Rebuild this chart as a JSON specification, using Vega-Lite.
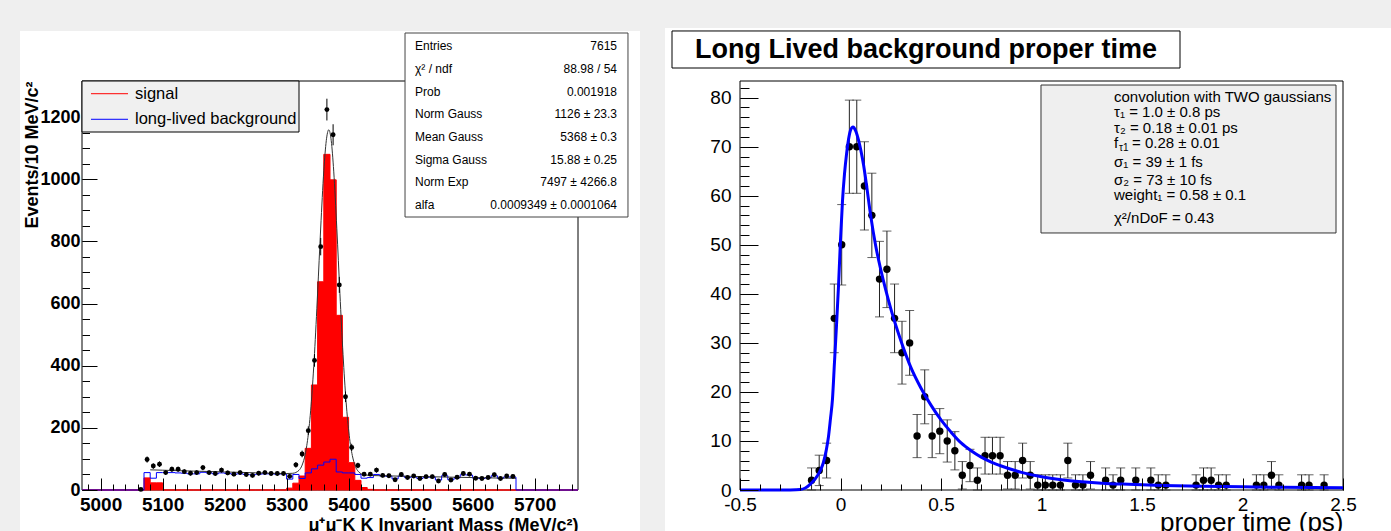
{
  "$schema": "https://vega.github.io/schema/vega-lite/v6.json",
  "background": "#efefef",
  "padding": {"left": 20, "top": 27, "right": 0, "bottom": 0},
  "spacing": 25,
  "config": {
    "font": "Liberation Sans",
    "view": {"stroke": null},
    "axis": {"grid": false, "domain": false, "labelOverlap": false, "labelFlush": false, "tickColor": "#000", "tickWidth": 1, "labelColor": "#000", "titleColor": "#000"}
  },
  "datasets": {
    "hist": [
      {"e": 4970, "sig": 0, "bkg": 0},
      {"e": 5070, "sig": 39, "bkg": 56},
      {"e": 5080, "sig": 23, "bkg": 38},
      {"e": 5090, "sig": 23, "bkg": 56},
      {"e": 5100, "sig": 0, "bkg": 56},
      {"e": 5110, "sig": 0, "bkg": 56},
      {"e": 5120, "sig": 0, "bkg": 55},
      {"e": 5130, "sig": 0, "bkg": 54},
      {"e": 5140, "sig": 0, "bkg": 52},
      {"e": 5150, "sig": 0, "bkg": 52},
      {"e": 5160, "sig": 0, "bkg": 57},
      {"e": 5170, "sig": 0, "bkg": 55},
      {"e": 5180, "sig": 0, "bkg": 52},
      {"e": 5190, "sig": 0, "bkg": 55},
      {"e": 5200, "sig": 0, "bkg": 53},
      {"e": 5210, "sig": 0, "bkg": 51},
      {"e": 5220, "sig": 0, "bkg": 52},
      {"e": 5230, "sig": 0, "bkg": 50},
      {"e": 5240, "sig": 0, "bkg": 49},
      {"e": 5250, "sig": 0, "bkg": 51},
      {"e": 5260, "sig": 0, "bkg": 52},
      {"e": 5270, "sig": 0, "bkg": 52},
      {"e": 5280, "sig": 0, "bkg": 51},
      {"e": 5290, "sig": 0, "bkg": 52},
      {"e": 5300, "sig": 6, "bkg": 35},
      {"e": 5310, "sig": 22, "bkg": 50},
      {"e": 5320, "sig": 45, "bkg": 37},
      {"e": 5330, "sig": 134, "bkg": 55},
      {"e": 5340, "sig": 338, "bkg": 68},
      {"e": 5350, "sig": 670, "bkg": 80},
      {"e": 5360, "sig": 1080, "bkg": 90},
      {"e": 5370, "sig": 998, "bkg": 99},
      {"e": 5380, "sig": 562, "bkg": 58},
      {"e": 5390, "sig": 234, "bkg": 55},
      {"e": 5400, "sig": 88, "bkg": 55},
      {"e": 5410, "sig": 31, "bkg": 50},
      {"e": 5420, "sig": 8, "bkg": 38},
      {"e": 5430, "sig": 2, "bkg": 40},
      {"e": 5440, "sig": 0, "bkg": 50},
      {"e": 5450, "sig": 0, "bkg": 45},
      {"e": 5460, "sig": 0, "bkg": 44},
      {"e": 5470, "sig": 0, "bkg": 36},
      {"e": 5480, "sig": 0, "bkg": 45},
      {"e": 5490, "sig": 0, "bkg": 40},
      {"e": 5500, "sig": 0, "bkg": 42},
      {"e": 5510, "sig": 0, "bkg": 37},
      {"e": 5520, "sig": 0, "bkg": 41},
      {"e": 5530, "sig": 0, "bkg": 41},
      {"e": 5540, "sig": 0, "bkg": 32},
      {"e": 5550, "sig": 0, "bkg": 46},
      {"e": 5560, "sig": 0, "bkg": 33},
      {"e": 5570, "sig": 0, "bkg": 39},
      {"e": 5580, "sig": 0, "bkg": 49},
      {"e": 5590, "sig": 0, "bkg": 48},
      {"e": 5600, "sig": 0, "bkg": 38},
      {"e": 5610, "sig": 0, "bkg": 37},
      {"e": 5620, "sig": 0, "bkg": 39},
      {"e": 5630, "sig": 0, "bkg": 46},
      {"e": 5640, "sig": 0, "bkg": 37},
      {"e": 5650, "sig": 0, "bkg": 42},
      {"e": 5660, "sig": 0, "bkg": 41},
      {"e": 5670, "sig": 0, "bkg": 0},
      {"e": 5770, "sig": 0, "bkg": 0}
    ],
    "mass": [
      {"m": 5065, "n": 2, "lo": 0.6, "hi": 3.4},
      {"m": 5075, "n": 98, "lo": 88.1, "hi": 107.9},
      {"m": 5085, "n": 77, "lo": 68.2, "hi": 85.8},
      {"m": 5095, "n": 83, "lo": 73.9, "hi": 92.1},
      {"m": 5105, "n": 56, "lo": 48.5, "hi": 63.5},
      {"m": 5115, "n": 67, "lo": 58.8, "hi": 75.2},
      {"m": 5125, "n": 67, "lo": 58.8, "hi": 75.2},
      {"m": 5135, "n": 59, "lo": 51.3, "hi": 66.7},
      {"m": 5145, "n": 54, "lo": 46.7, "hi": 61.3},
      {"m": 5155, "n": 56, "lo": 48.5, "hi": 63.5},
      {"m": 5165, "n": 72, "lo": 63.5, "hi": 80.5},
      {"m": 5175, "n": 56, "lo": 48.5, "hi": 63.5},
      {"m": 5185, "n": 53, "lo": 45.7, "hi": 60.3},
      {"m": 5195, "n": 64, "lo": 56, "hi": 72},
      {"m": 5205, "n": 55, "lo": 47.6, "hi": 62.4},
      {"m": 5215, "n": 51, "lo": 43.9, "hi": 58.1},
      {"m": 5225, "n": 56, "lo": 48.5, "hi": 63.5},
      {"m": 5235, "n": 50, "lo": 42.9, "hi": 57.1},
      {"m": 5245, "n": 47, "lo": 40.1, "hi": 53.9},
      {"m": 5255, "n": 54, "lo": 46.7, "hi": 61.3},
      {"m": 5265, "n": 56, "lo": 48.5, "hi": 63.5},
      {"m": 5275, "n": 53, "lo": 45.7, "hi": 60.3},
      {"m": 5285, "n": 53, "lo": 45.7, "hi": 60.3},
      {"m": 5295, "n": 53, "lo": 45.7, "hi": 60.3},
      {"m": 5305, "n": 44, "lo": 37.4, "hi": 50.6},
      {"m": 5315, "n": 81, "lo": 72, "hi": 90},
      {"m": 5325, "n": 116, "lo": 105.2, "hi": 126.8},
      {"m": 5335, "n": 191, "lo": 177.2, "hi": 204.8},
      {"m": 5345, "n": 417, "lo": 396.6, "hi": 437.4},
      {"m": 5355, "n": 783, "lo": 755, "hi": 811},
      {"m": 5365, "n": 1224, "lo": 1189, "hi": 1259},
      {"m": 5375, "n": 1143, "lo": 1109.2, "hi": 1176.8},
      {"m": 5385, "n": 660, "lo": 634.3, "hi": 685.7},
      {"m": 5395, "n": 300, "lo": 282.7, "hi": 317.3},
      {"m": 5405, "n": 137, "lo": 125.3, "hi": 148.7},
      {"m": 5415, "n": 79, "lo": 70.1, "hi": 87.9},
      {"m": 5425, "n": 51, "lo": 43.9, "hi": 58.1},
      {"m": 5435, "n": 51, "lo": 43.9, "hi": 58.1},
      {"m": 5445, "n": 64, "lo": 56, "hi": 72},
      {"m": 5455, "n": 47, "lo": 40.1, "hi": 53.9},
      {"m": 5465, "n": 46, "lo": 39.2, "hi": 52.8},
      {"m": 5475, "n": 33, "lo": 27.3, "hi": 38.7},
      {"m": 5485, "n": 50, "lo": 42.9, "hi": 57.1},
      {"m": 5495, "n": 40, "lo": 33.7, "hi": 46.3},
      {"m": 5505, "n": 45, "lo": 38.3, "hi": 51.7},
      {"m": 5515, "n": 37, "lo": 30.9, "hi": 43.1},
      {"m": 5525, "n": 43, "lo": 36.4, "hi": 49.6},
      {"m": 5535, "n": 43, "lo": 36.4, "hi": 49.6},
      {"m": 5545, "n": 29, "lo": 23.6, "hi": 34.4},
      {"m": 5555, "n": 50, "lo": 42.9, "hi": 57.1},
      {"m": 5565, "n": 32, "lo": 26.3, "hi": 37.7},
      {"m": 5575, "n": 41, "lo": 34.6, "hi": 47.4},
      {"m": 5585, "n": 53, "lo": 45.7, "hi": 60.3},
      {"m": 5595, "n": 51, "lo": 43.9, "hi": 58.1},
      {"m": 5605, "n": 38, "lo": 31.8, "hi": 44.2},
      {"m": 5615, "n": 37, "lo": 30.9, "hi": 43.1},
      {"m": 5625, "n": 40, "lo": 33.7, "hi": 46.3},
      {"m": 5635, "n": 49, "lo": 42, "hi": 56},
      {"m": 5645, "n": 37, "lo": 30.9, "hi": 43.1},
      {"m": 5655, "n": 45, "lo": 38.3, "hi": 51.7},
      {"m": 5665, "n": 44, "lo": 37.4, "hi": 50.6}
    ],
    "massfit": [
      {"m": 5080, "f": 64.9}, {"m": 5100, "f": 63.7}, {"m": 5150, "f": 60.8}, {"m": 5200, "f": 58.1},
      {"m": 5250, "f": 55.4}, {"m": 5300, "f": 53.0}, {"m": 5310, "f": 53.8}, {"m": 5320, "f": 63.4},
      {"m": 5325, "f": 80.0}, {"m": 5330, "f": 114.7}, {"m": 5335, "f": 179.2}, {"m": 5340, "f": 285.5},
      {"m": 5345, "f": 438.8}, {"m": 5350, "f": 633.6}, {"m": 5355, "f": 843}, {"m": 5360, "f": 1027},
      {"m": 5364, "f": 1124}, {"m": 5368, "f": 1159}, {"m": 5372, "f": 1124}, {"m": 5376, "f": 1026},
      {"m": 5381, "f": 842}, {"m": 5386, "f": 632}, {"m": 5391, "f": 436.6}, {"m": 5396, "f": 282.7},
      {"m": 5401, "f": 176.1}, {"m": 5406, "f": 111.1}, {"m": 5411, "f": 76.0}, {"m": 5416, "f": 58.9},
      {"m": 5426, "f": 48.3}, {"m": 5436, "f": 46.6}, {"m": 5450, "f": 46.0}, {"m": 5500, "f": 43.9},
      {"m": 5550, "f": 41.9}, {"m": 5600, "f": 40.0}, {"m": 5650, "f": 38.2}, {"m": 5670, "f": 37.5}
    ],
    "tau": [
      {"t": -0.144, "n": 2, "lo": 0, "hi": 4.5},
      {"t": -0.106, "n": 4, "lo": 0.9, "hi": 7.1},
      {"t": -0.069, "n": 6, "lo": 2.45, "hi": 9.55},
      {"t": -0.031, "n": 35, "lo": 28, "hi": 42},
      {"t": 0.006, "n": 50, "lo": 41.8, "hi": 58.2},
      {"t": 0.044, "n": 70, "lo": 60.5, "hi": 79.5},
      {"t": 0.081, "n": 70, "lo": 60.5, "hi": 79.5},
      {"t": 0.119, "n": 62, "lo": 53, "hi": 71},
      {"t": 0.156, "n": 56, "lo": 47.4, "hi": 64.6},
      {"t": 0.194, "n": 43, "lo": 35.3, "hi": 50.7},
      {"t": 0.231, "n": 45, "lo": 37.2, "hi": 52.8},
      {"t": 0.269, "n": 35, "lo": 28, "hi": 42},
      {"t": 0.306, "n": 28, "lo": 21.6, "hi": 34.4},
      {"t": 0.344, "n": 30, "lo": 23.4, "hi": 36.6},
      {"t": 0.381, "n": 11, "lo": 6.6, "hi": 15.4},
      {"t": 0.419, "n": 19, "lo": 13.5, "hi": 24.5},
      {"t": 0.456, "n": 11, "lo": 6.6, "hi": 15.4},
      {"t": 0.494, "n": 12, "lo": 7.4, "hi": 16.6},
      {"t": 0.531, "n": 10, "lo": 5.7, "hi": 14.3},
      {"t": 0.569, "n": 8, "lo": 4.1, "hi": 11.9},
      {"t": 0.606, "n": 3, "lo": 0.2, "hi": 5.8},
      {"t": 0.644, "n": 5, "lo": 1.7, "hi": 8.3},
      {"t": 0.681, "n": 2, "lo": 0, "hi": 4.5},
      {"t": 0.719, "n": 7, "lo": 3.25, "hi": 10.75},
      {"t": 0.756, "n": 7, "lo": 3.25, "hi": 10.75},
      {"t": 0.794, "n": 7, "lo": 3.25, "hi": 10.75},
      {"t": 0.831, "n": 3, "lo": 0.2, "hi": 5.8},
      {"t": 0.869, "n": 3, "lo": 0.2, "hi": 5.8},
      {"t": 0.906, "n": 6, "lo": 2.45, "hi": 9.55},
      {"t": 0.944, "n": 3, "lo": 0.2, "hi": 5.8},
      {"t": 0.981, "n": 1, "lo": 0, "hi": 3.1},
      {"t": 1.019, "n": 1, "lo": 0, "hi": 3.1},
      {"t": 1.056, "n": 1, "lo": 0, "hi": 3.1},
      {"t": 1.094, "n": 1, "lo": 0, "hi": 3.1},
      {"t": 1.131, "n": 6, "lo": 2.45, "hi": 9.55},
      {"t": 1.169, "n": 1, "lo": 0, "hi": 3.1},
      {"t": 1.206, "n": 1, "lo": 0, "hi": 3.1},
      {"t": 1.244, "n": 3, "lo": 0.2, "hi": 5.8},
      {"t": 1.319, "n": 2, "lo": 0, "hi": 4.5},
      {"t": 1.356, "n": 1, "lo": 0, "hi": 3.1},
      {"t": 1.394, "n": 2, "lo": 0, "hi": 4.5},
      {"t": 1.469, "n": 2, "lo": 0, "hi": 4.5},
      {"t": 1.544, "n": 2, "lo": 0, "hi": 4.5},
      {"t": 1.581, "n": 1, "lo": 0, "hi": 3.1},
      {"t": 1.619, "n": 1, "lo": 0, "hi": 3.1},
      {"t": 1.769, "n": 1, "lo": 0, "hi": 3.1},
      {"t": 1.806, "n": 2, "lo": 0, "hi": 4.5},
      {"t": 1.844, "n": 2, "lo": 0, "hi": 4.5},
      {"t": 1.881, "n": 1, "lo": 0, "hi": 3.1},
      {"t": 1.919, "n": 1, "lo": 0, "hi": 3.1},
      {"t": 2.069, "n": 1, "lo": 0, "hi": 3.1},
      {"t": 2.106, "n": 1, "lo": 0, "hi": 3.1},
      {"t": 2.144, "n": 3, "lo": 0.2, "hi": 5.8},
      {"t": 2.181, "n": 1, "lo": 0, "hi": 3.1},
      {"t": 2.294, "n": 1, "lo": 0, "hi": 3.1},
      {"t": 2.331, "n": 1, "lo": 0, "hi": 3.1},
      {"t": 2.406, "n": 1, "lo": 0, "hi": 3.1}
    ],
    "taufit": [
      {"t": -0.5, "f": 0}, {"t": -0.3, "f": 0}, {"t": -0.25, "f": 0.02}, {"t": -0.2, "f": 0.1},
      {"t": -0.175, "f": 0.4}, {"t": -0.15, "f": 1.2}, {"t": -0.125, "f": 2.3}, {"t": -0.1, "f": 4.0},
      {"t": -0.085, "f": 5.6}, {"t": -0.07, "f": 8.3}, {"t": -0.06, "f": 10.8}, {"t": -0.05, "f": 14.5},
      {"t": -0.04, "f": 18.5}, {"t": -0.03, "f": 26}, {"t": -0.02, "f": 33.5}, {"t": -0.01, "f": 41.5},
      {"t": 0, "f": 51}, {"t": 0.01, "f": 59}, {"t": 0.02, "f": 64.5}, {"t": 0.03, "f": 68.5},
      {"t": 0.04, "f": 71.5}, {"t": 0.05, "f": 73.4}, {"t": 0.0625, "f": 74}, {"t": 0.075, "f": 73.3},
      {"t": 0.09, "f": 71.3}, {"t": 0.1, "f": 69.5}, {"t": 0.115, "f": 66.2}, {"t": 0.13, "f": 62},
      {"t": 0.15, "f": 56}, {"t": 0.175, "f": 49.8}, {"t": 0.2, "f": 45}, {"t": 0.225, "f": 40.8},
      {"t": 0.25, "f": 37}, {"t": 0.275, "f": 33.6}, {"t": 0.3, "f": 30.5}, {"t": 0.35, "f": 25},
      {"t": 0.4, "f": 20.8}, {"t": 0.45, "f": 17.3}, {"t": 0.5, "f": 14.3}, {"t": 0.55, "f": 11.8},
      {"t": 0.6, "f": 9.6}, {"t": 0.65, "f": 8.0}, {"t": 0.7, "f": 6.7}, {"t": 0.75, "f": 5.7},
      {"t": 0.8, "f": 4.9}, {"t": 0.9, "f": 3.6}, {"t": 1.0, "f": 2.7}, {"t": 1.1, "f": 2.1},
      {"t": 1.2, "f": 1.7}, {"t": 1.3, "f": 1.4}, {"t": 1.4, "f": 1.2}, {"t": 1.5, "f": 1.05},
      {"t": 1.6, "f": 0.93}, {"t": 1.8, "f": 0.76}, {"t": 2.0, "f": 0.64}, {"t": 2.2, "f": 0.56},
      {"t": 2.5, "f": 0.46}
    ]
  },
  "hconcat": [
    {
      "width": 496,
      "height": 409,
      "resolve": {"axis": {"x": "independent", "y": "independent"}},
      "layer": [
        {
          "data": {"values": [{}]},
          "mark": {"type": "rect", "fill": "white"},
          "encoding": {
            "x": {"datum": 4870, "type": "quantitative", "scale": {"domain": [4970, 5770], "nice": false, "zero": false}, "axis": null},
            "x2": {"datum": 5870},
            "y": {"datum": 1476.9, "type": "quantitative", "scale": {"domain": [0, 1316], "nice": false, "zero": false}, "axis": null},
            "y2": {"datum": -135.1}
          }
        },
        {
          "data": {"values": [{}]},
          "mark": {"type": "rect", "fill": "transparent", "stroke": "#000", "strokeWidth": 1},
          "encoding": {
            "x": {"datum": 4970, "type": "quantitative", "axis": null},
            "x2": {"datum": 5770},
            "y": {"datum": 0, "type": "quantitative", "axis": null},
            "y2": {"datum": 1316}
          }
        },
        {
          "data": {"name": "hist"},
          "mark": {"type": "area", "interpolate": "step-after", "color": "#ff0000", "stroke": "#ff0000", "strokeWidth": 1, "opacity": 1},
          "encoding": {
            "x": {"field": "e", "type": "quantitative",
              "axis": {"orient": "bottom", "zindex": 2, "values": [5000, 5100, 5200, 5300, 5400, 5500, 5600, 5700], "ticks": false, "format": "d",
                "labelFontWeight": "bold", "labelFontSize": 19, "labelPadding": 5,
                "title": "μ⁺μ⁻K K Invariant Mass (MeV/c²)", "titleFontSize": 18, "titleFontWeight": "bold",
                "titleAlign": "right", "titleX": 496, "titleY": 40.5, "titleBaseline": "alphabetic"}},
            "y": {"field": "sig", "type": "quantitative",
              "axis": {"orient": "left", "zindex": 2, "values": [0, 200, 400, 600, 800, 1000, 1200], "ticks": false, "format": "d",
                "labelFontWeight": "bold", "labelFontSize": 18, "labelPadding": 2,
                "title": "Events/10 MeV/c²", "titleFontSize": 18, "titleFontWeight": "bold",
                "titleAngle": 270, "titleAlign": "right", "titleBaseline": "middle", "titleX": -50, "titleY": 0}}
          }
        },
        {
          "data": {"name": "hist"},
          "mark": {"type": "line", "interpolate": "step-after", "color": "#0000ff", "strokeWidth": 1},
          "encoding": {
            "x": {"field": "e", "type": "quantitative",
              "axis": {"orient": "bottom", "zindex": 2, "values": [5000, 5100, 5200, 5300, 5400, 5500, 5600, 5700], "labels": false, "tickSize": -12, "title": null}},
            "y": {"field": "bkg", "type": "quantitative",
              "axis": {"orient": "left", "zindex": 2, "values": [0, 200, 400, 600, 800, 1000], "labels": false, "tickSize": -15, "title": null}}
          }
        },
        {
          "data": {"name": "massfit"},
          "mark": {"type": "line", "interpolate": "monotone", "color": "#333333", "strokeWidth": 1},
          "encoding": {
            "x": {"field": "m", "type": "quantitative",
              "axis": {"orient": "bottom", "zindex": 2, "values": [4980, 5000, 5020, 5040, 5060, 5080, 5100, 5120, 5140, 5160, 5180, 5200, 5220, 5240, 5260, 5280, 5300, 5320, 5340, 5360, 5380, 5400, 5420, 5440, 5460, 5480, 5500, 5520, 5540, 5560, 5580, 5600, 5620, 5640, 5660, 5680, 5700, 5720, 5740, 5760], "labels": false, "tickSize": -6, "title": null}},
            "y": {"field": "f", "type": "quantitative",
              "axis": {"orient": "left", "zindex": 2, "values": [0, 50, 100, 150, 200, 250, 300, 350, 400, 450, 500, 550, 600, 650, 700, 750, 800, 850, 900, 950, 1000, 1050, 1100, 1150], "labels": false, "tickSize": -7.5, "title": null}}
          }
        },
        {
          "data": {"name": "mass"},
          "mark": {"type": "rule", "color": "#000", "strokeWidth": 1},
          "encoding": {
            "x": {"field": "m", "type": "quantitative", "axis": null},
            "y": {"field": "lo", "type": "quantitative", "axis": null},
            "y2": {"field": "hi"}
          }
        },
        {
          "data": {"name": "mass"},
          "mark": {"type": "circle", "color": "#000", "size": 24, "opacity": 1},
          "encoding": {
            "x": {"field": "m", "type": "quantitative", "axis": null},
            "y": {"field": "n", "type": "quantitative", "axis": null}
          }
        },
        {
          "data": {"values": [{}]},
          "mark": {"type": "rect", "fill": "#f0f0f0", "stroke": "#000", "strokeWidth": 1},
          "encoding": {
            "x": {"datum": 4970, "type": "quantitative", "axis": null},
            "x2": {"datum": 5320},
            "y": {"datum": 1316, "type": "quantitative", "axis": null},
            "y2": {"datum": 1151.9}
          }
        },
        {
          "data": {"values": [{}]},
          "mark": {"type": "rule", "color": "#ff0000", "strokeWidth": 1},
          "encoding": {
            "x": {"datum": 4984.5, "type": "quantitative", "axis": null},
            "x2": {"datum": 5044.2},
            "y": {"datum": 1275.1, "type": "quantitative", "axis": null}
          }
        },
        {
          "data": {"values": [{}]},
          "mark": {"type": "rule", "color": "#0000ff", "strokeWidth": 1},
          "encoding": {
            "x": {"datum": 4984.5, "type": "quantitative", "axis": null},
            "x2": {"datum": 5044.2},
            "y": {"datum": 1192.8, "type": "quantitative", "axis": null}
          }
        },
        {
          "data": {"values": [{}]},
          "mark": {"type": "text", "text": "signal", "align": "left", "baseline": "middle", "fontSize": 16.5, "color": "#000"},
          "encoding": {
            "x": {"datum": 5055.5, "type": "quantitative", "axis": null},
            "y": {"datum": 1275.1, "type": "quantitative", "axis": null}
          }
        },
        {
          "data": {"values": [{}]},
          "mark": {"type": "text", "text": "long-lived background", "align": "left", "baseline": "middle", "fontSize": 16.5, "color": "#000"},
          "encoding": {
            "x": {"datum": 5055.5, "type": "quantitative", "axis": null},
            "y": {"datum": 1192.8, "type": "quantitative", "axis": null}
          }
        },
        {
          "data": {"values": [{}]},
          "mark": {"type": "rect", "fill": "#ffffff", "stroke": "#444", "strokeWidth": 1},
          "encoding": {
            "x": {"datum": 5491, "type": "quantitative", "axis": null},
            "x2": {"datum": 5850.6},
            "y": {"datum": 1470.4, "type": "quantitative", "axis": null},
            "y2": {"datum": 878.4}
          }
        },
        {
          "data": {"values": [{}]},
          "mark": {"type": "text", "align": "left", "baseline": "alphabetic", "fontSize": 12, "lineHeight": 22.7, "color": "#000",
            "text": ["Entries", "χ² / ndf", "Prob", "Norm Gauss", "Mean Gauss", "Sigma Gauss", "Norm Exp", "alfa"]},
          "encoding": {
            "x": {"datum": 5507.1, "type": "quantitative", "axis": null},
            "y": {"datum": 1415.1, "type": "quantitative", "axis": null}
          }
        },
        {
          "data": {"values": [{}]},
          "mark": {"type": "text", "align": "right", "baseline": "alphabetic", "fontSize": 12, "lineHeight": 22.7, "color": "#000",
            "text": ["7615", "88.98 / 54", "0.001918", "1126 ± 23.3", "5368 ± 0.3", "15.88 ± 0.25", "7497 ± 4266.8", "0.0009349 ± 0.0001064"]},
          "encoding": {
            "x": {"datum": 5832.9, "type": "quantitative", "axis": null},
            "y": {"datum": 1415.1, "type": "quantitative", "axis": null}
          }
        }
      ]
    },
    {
      "width": 603,
      "height": 409,
      "resolve": {"axis": {"x": "independent", "y": "independent"}},
      "layer": [
        {
          "data": {"values": [{}]},
          "mark": {"type": "rect", "fill": "white"},
          "encoding": {
            "x": {"datum": -0.8731, "type": "quantitative", "scale": {"domain": [-0.5, 2.5], "nice": false, "zero": false}, "axis": null},
            "x2": {"datum": 2.7388},
            "y": {"datum": 94.21, "type": "quantitative", "scale": {"domain": [0, 83.4], "nice": false, "zero": false}, "axis": null},
            "y2": {"datum": -8.56}
          }
        },
        {
          "data": {"values": [{}]},
          "mark": {"type": "rect", "fill": "transparent", "stroke": "#000", "strokeWidth": 1},
          "encoding": {
            "x": {"datum": -0.5, "type": "quantitative", "axis": null},
            "x2": {"datum": 2.5},
            "y": {"datum": 0, "type": "quantitative", "axis": null},
            "y2": {"datum": 83.4}
          }
        },
        {
          "data": {"values": [{}]},
          "mark": {"type": "rect", "fill": "#ffffff", "stroke": "#000", "strokeWidth": 1},
          "encoding": {
            "x": {"datum": -0.8383, "type": "quantitative", "axis": null},
            "x2": {"datum": 1.6891},
            "y": {"datum": 93.6, "type": "quantitative", "axis": null},
            "y2": {"datum": 86.05}
          }
        },
        {
          "data": {"values": [{}]},
          "mark": {"type": "text", "text": "Long Lived background proper time", "align": "center", "baseline": "middle", "fontSize": 27, "fontWeight": "bold", "color": "#000"},
          "encoding": {
            "x": {"datum": 0.4254, "type": "quantitative", "axis": null},
            "y": {"datum": 89.72, "type": "quantitative", "axis": null}
          }
        },
        {
          "data": {"name": "tau"},
          "mark": {"type": "errorbar", "ticks": {"color": "#222", "size": 9}, "rule": {"color": "#222"}},
          "encoding": {
            "x": {"field": "t", "type": "quantitative",
              "axis": {"orient": "bottom", "zindex": 2, "values": [-0.5, -0.4, -0.3, -0.2, -0.1, 0, 0.1, 0.2, 0.3, 0.4, 0.5, 0.6, 0.7, 0.8, 0.9, 1, 1.1, 1.2, 1.3, 1.4, 1.5, 1.6, 1.7, 1.8, 1.9, 2, 2.1, 2.2, 2.3, 2.4, 2.5], "labels": false, "tickSize": -6, "title": null}},
            "y": {"field": "lo", "type": "quantitative",
              "axis": {"orient": "left", "zindex": 2, "values": [0, 2, 4, 6, 8, 10, 12, 14, 16, 18, 20, 22, 24, 26, 28, 30, 32, 34, 36, 38, 40, 42, 44, 46, 48, 50, 52, 54, 56, 58, 60, 62, 64, 66, 68, 70, 72, 74, 76, 78, 80, 82], "labels": false, "tickSize": -9, "title": null}},
            "y2": {"field": "hi"}
          }
        },
        {
          "data": {"name": "tau"},
          "mark": {"type": "circle", "color": "#000", "size": 55, "opacity": 1},
          "encoding": {
            "x": {"field": "t", "type": "quantitative",
              "axis": {"orient": "bottom", "zindex": 2, "values": [-0.5, 0, 0.5, 1, 1.5, 2, 2.5], "labels": false, "tickSize": -12, "title": null}},
            "y": {"field": "n", "type": "quantitative",
              "axis": {"orient": "left", "zindex": 2, "values": [0, 10, 20, 30, 40, 50, 60, 70, 80], "labels": false, "tickSize": -18, "title": null}}
          }
        },
        {
          "data": {"name": "taufit"},
          "mark": {"type": "line", "interpolate": "monotone", "color": "#0000ff", "strokeWidth": 3},
          "encoding": {
            "x": {"field": "t", "type": "quantitative",
              "axis": {"orient": "bottom", "zindex": 2, "values": [-0.5, 0, 0.5, 1, 1.5, 2, 2.5], "ticks": false, "labelExpr": "datum.value + ''",
                "labelFontSize": 19, "labelPadding": 5,
                "title": "proper time (ps)", "titleFontSize": 26, "titleFontWeight": "normal",
                "titleAlign": "right", "titleX": 603, "titleY": 40, "titleBaseline": "alphabetic"}},
            "y": {"field": "f", "type": "quantitative",
              "axis": {"orient": "left", "zindex": 2, "values": [0, 10, 20, 30, 40, 50, 60, 70, 80], "ticks": false, "labelFontSize": 19, "labelPadding": 9, "title": null}}
          }
        },
        {
          "data": {"values": [{}]},
          "mark": {"type": "rect", "fill": "#efefef", "stroke": "#333", "strokeWidth": 1},
          "encoding": {
            "x": {"datum": 0.9975, "type": "quantitative", "axis": null},
            "x2": {"datum": 2.4652},
            "y": {"datum": 82.58, "type": "quantitative", "axis": null},
            "y2": {"datum": 52.41}
          }
        },
        {"data": {"values": [{}]}, "mark": {"type": "text", "text": "convolution with TWO gaussians", "align": "left", "baseline": "middle", "fontSize": 15, "color": "#000"},
          "encoding": {"x": {"datum": 1.3607, "type": "quantitative", "axis": null}, "y": {"datum": 80.14, "type": "quantitative", "axis": null}}},
        {"data": {"values": [{}]}, "mark": {"type": "text", "text": "τ₁ = 1.0 ± 0.8 ps", "align": "left", "baseline": "middle", "fontSize": 15, "color": "#000"},
          "encoding": {"x": {"datum": 1.3607, "type": "quantitative", "axis": null}, "y": {"datum": 77.14, "type": "quantitative", "axis": null}}},
        {"data": {"values": [{}]}, "mark": {"type": "text", "text": "τ₂ = 0.18 ± 0.01 ps", "align": "left", "baseline": "middle", "fontSize": 15, "color": "#000"},
          "encoding": {"x": {"datum": 1.3607, "type": "quantitative", "axis": null}, "y": {"datum": 73.88, "type": "quantitative", "axis": null}}},
        {"data": {"values": [{}]}, "mark": {"type": "text", "text": "f", "align": "left", "baseline": "middle", "fontSize": 15, "color": "#000"},
          "encoding": {"x": {"datum": 1.3607, "type": "quantitative", "axis": null}, "y": {"datum": 70.69, "type": "quantitative", "axis": null}}},
        {"data": {"values": [{}]}, "mark": {"type": "text", "text": "τ1", "align": "left", "baseline": "middle", "fontSize": 10, "dx": 5, "dy": 5, "color": "#000"},
          "encoding": {"x": {"datum": 1.3607, "type": "quantitative", "axis": null}, "y": {"datum": 70.69, "type": "quantitative", "axis": null}}},
        {"data": {"values": [{}]}, "mark": {"type": "text", "text": "= 0.28 ± 0.01", "align": "left", "baseline": "middle", "fontSize": 15, "dx": 18, "color": "#000"},
          "encoding": {"x": {"datum": 1.3607, "type": "quantitative", "axis": null}, "y": {"datum": 70.69, "type": "quantitative", "axis": null}}},
        {"data": {"values": [{}]}, "mark": {"type": "text", "text": "σ₁ = 39 ± 1 fs", "align": "left", "baseline": "middle", "fontSize": 15, "color": "#000"},
          "encoding": {"x": {"datum": 1.3607, "type": "quantitative", "axis": null}, "y": {"datum": 66.89, "type": "quantitative", "axis": null}}},
        {"data": {"values": [{}]}, "mark": {"type": "text", "text": "σ₂ = 73 ± 10 fs", "align": "left", "baseline": "middle", "fontSize": 15, "color": "#000"},
          "encoding": {"x": {"datum": 1.3607, "type": "quantitative", "axis": null}, "y": {"datum": 63.29, "type": "quantitative", "axis": null}}},
        {"data": {"values": [{}]}, "mark": {"type": "text", "text": "weight₁ = 0.58 ± 0.1", "align": "left", "baseline": "middle", "fontSize": 15, "color": "#000"},
          "encoding": {"x": {"datum": 1.3607, "type": "quantitative", "axis": null}, "y": {"datum": 60.09, "type": "quantitative", "axis": null}}},
        {"data": {"values": [{}]}, "mark": {"type": "text", "text": "χ²/nDoF = 0.43", "align": "left", "baseline": "middle", "fontSize": 15, "color": "#000"},
          "encoding": {"x": {"datum": 1.3607, "type": "quantitative", "axis": null}, "y": {"datum": 55.4, "type": "quantitative", "axis": null}}}
      ]
    }
  ]
}
